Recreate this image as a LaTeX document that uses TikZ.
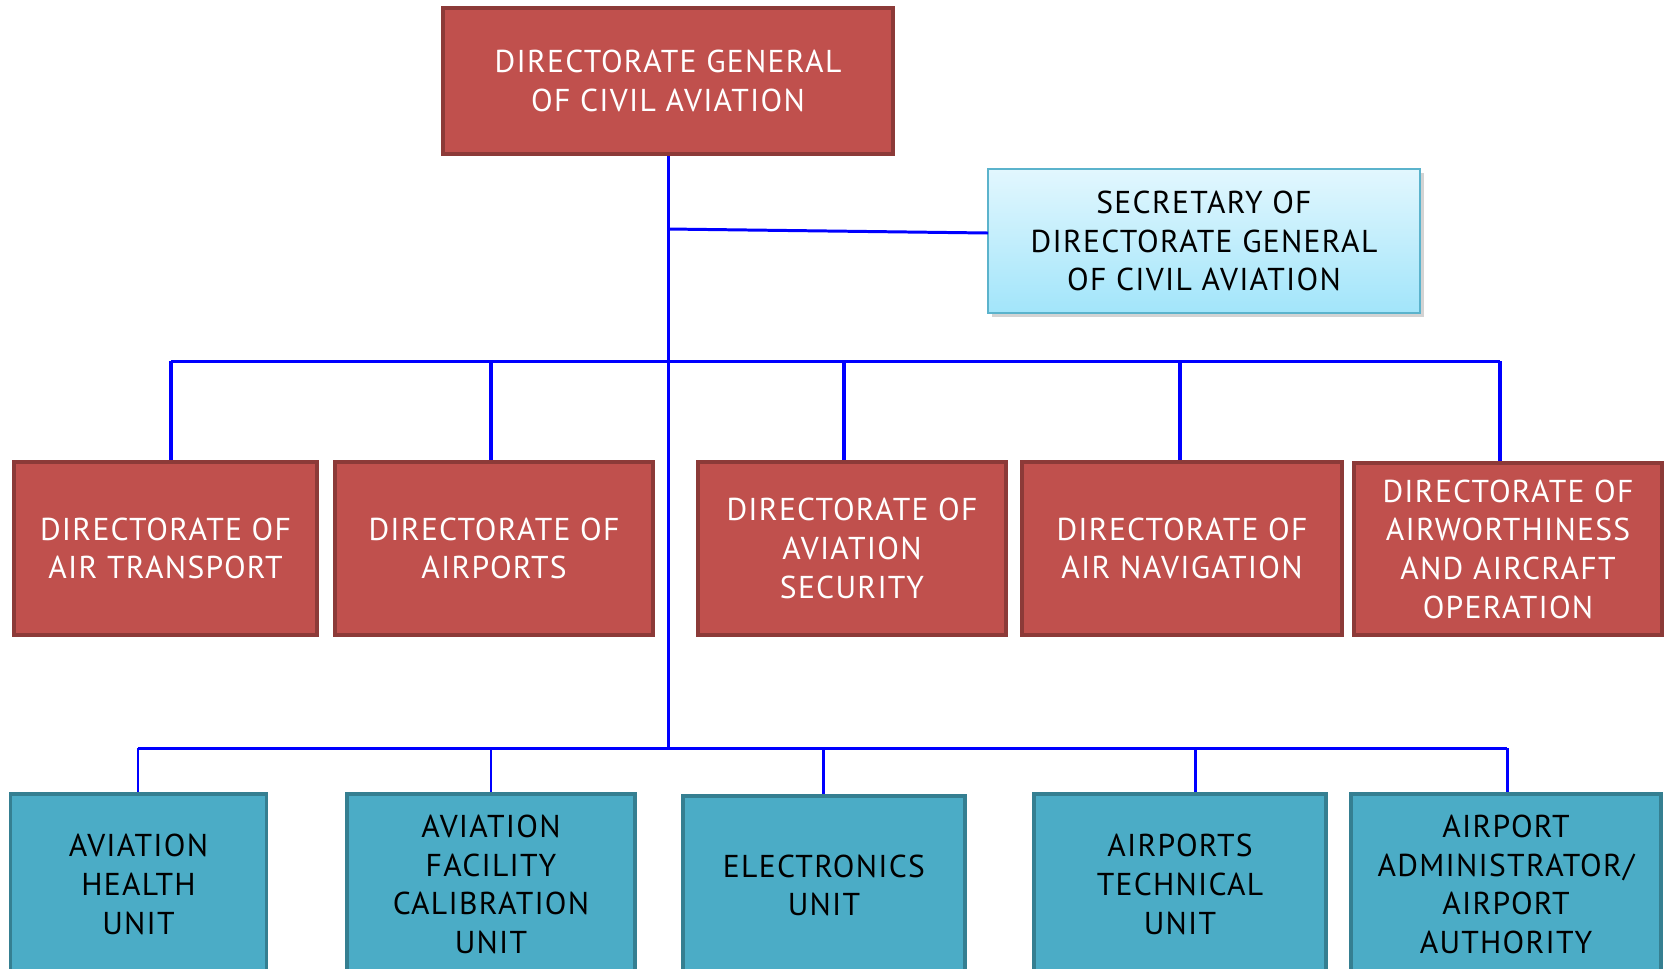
\documentclass[tikz,border=0pt]{standalone}
\usepackage{fontspec}
\setmainfont{PT Sans}[LetterSpace=4]
\usetikzlibrary{shadows}

\definecolor{dirred}{HTML}{C0504D}
\definecolor{dirredline}{HTML}{8C3A38}
\definecolor{unitteal}{HTML}{4BACC6}
\definecolor{unittealline}{HTML}{357F91}
\definecolor{secrtop}{HTML}{E2F7FE}
\definecolor{secrbot}{HTML}{A2E5FA}
\definecolor{secrline}{HTML}{5BB3CC}

\tikzset{
  orgtext/.style={align=center, font=\fontsize{18}{22}\selectfont, inner sep=0pt},
  redbox/.style={orgtext, draw=dirredline, fill=dirred, text=white, line width=2.2pt},
  tealbox/.style={orgtext, draw=unittealline, fill=unitteal, text=black, line width=2.2pt},
  secrbox/.style={orgtext, draw=secrline, top color=secrtop, bottom color=secrbot,
    line width=1.2pt, drop shadow={shadow xshift=2pt, shadow yshift=-2pt, opacity=0.35}},
  bus/.style={draw=blue, line width=1.7pt},
  busthick/.style={draw=blue, line width=2.8pt}
}

\begin{document}
\begin{tikzpicture}[x=0.02cm, y=-0.02cm]
	\useasboundingbox (0,0) rectangle (1667,968);
	% top level
	\node[redbox, minimum width=450*0.02cm, minimum height=146*0.02cm] (dgca) at (668,81)
		{DIRECTORATE GENERAL\\ OF CIVIL AVIATION};
	\node[secrbox, minimum width=432*0.02cm, minimum height=144*0.02cm] (secr) at (1204,241)
		{SECRETARY OF\\ DIRECTORATE GENERAL\\ OF CIVIL AVIATION};
	% directorates
	\node[redbox, minimum width=303*0.02cm, minimum height=173*0.02cm] (airtrans) at (165.5,548.5)
		{DIRECTORATE OF\\ AIR TRANSPORT};
	\node[redbox, minimum width=318*0.02cm, minimum height=173*0.02cm] (airports) at (494,548.5)
		{DIRECTORATE OF\\ AIRPORTS};
	\node[redbox, minimum width=308*0.02cm, minimum height=173*0.02cm] (avsec) at (852,548.5)
		{DIRECTORATE OF\\ AVIATION\\ SECURITY};
	\node[redbox, minimum width=320*0.02cm, minimum height=173*0.02cm] (airnav) at (1182,548.5)
		{DIRECTORATE OF\\ AIR NAVIGATION};
	\node[redbox, minimum width=308*0.02cm, minimum height=172*0.02cm] (airworth) at (1508,549)
		{DIRECTORATE OF\\ AIRWORTHINESS\\ AND AIRCRAFT\\ OPERATION};
	% units
	\node[tealbox, minimum width=256*0.02cm, minimum height=181*0.02cm] (health) at (138.5,884.5)
		{AVIATION\\ HEALTH\\ UNIT};
	\node[tealbox, minimum width=288*0.02cm, minimum height=181*0.02cm] (calib) at (491,884.5)
		{AVIATION\\ FACILITY\\ CALIBRATION\\ UNIT};
	\node[tealbox, minimum width=282*0.02cm, minimum height=179*0.02cm] (elec) at (824,885.5)
		{ELECTRONICS\\ UNIT};
	\node[tealbox, minimum width=292*0.02cm, minimum height=181*0.02cm] (aptech) at (1180,884.5)
		{AIRPORTS\\ TECHNICAL\\ UNIT};
	\node[tealbox, minimum width=310*0.02cm, minimum height=181*0.02cm] (apauth) at (1506,884.5)
		{AIRPORT\\ ADMINISTRATOR/\\ AIRPORT\\ AUTHORITY};
	% bus points
	\coordinate (secrjoin) at (668,229);
	\coordinate (secrend) at (988,233);
	\coordinate (midbus) at (668,361);
	\coordinate (lowbus) at (668,748);
	\coordinate (mid1) at (171,361);
	\coordinate (mid2) at (491,361);
	\coordinate (mid3) at (844,361);
	\coordinate (mid4) at (1180,361);
	\coordinate (mid5) at (1500,361);
	\coordinate (low1) at (138,748);
	\coordinate (low2) at (491,748);
	\coordinate (low3) at (823,748);
	\coordinate (low4) at (1195,748);
	\coordinate (low5) at (1507,748);
	% connectors
	\draw[bus] (dgca.south) -- (lowbus);
	\draw[bus] (secrjoin) -- (secrend);
	\draw[bus] (mid1) -- (mid5);
	\draw[busthick] (mid1) -- (mid1 |- airtrans.north);
	\draw[busthick] (mid2) -- (mid2 |- airports.north);
	\draw[busthick] (mid3) -- (mid3 |- avsec.north);
	\draw[busthick] (mid4) -- (mid4 |- airnav.north);
	\draw[busthick] (mid5) -- (mid5 |- airworth.north);
	\draw[bus] (low1) -- (low5);
	\draw[bus] (low1) -- (low1 |- health.north);
	\draw[bus] (low2) -- (low2 |- calib.north);
	\draw[bus] (low3) -- (low3 |- elec.north);
	\draw[bus] (low4) -- (low4 |- aptech.north);
	\draw[bus] (low5) -- (low5 |- apauth.north);
\end{tikzpicture}
\end{document}
